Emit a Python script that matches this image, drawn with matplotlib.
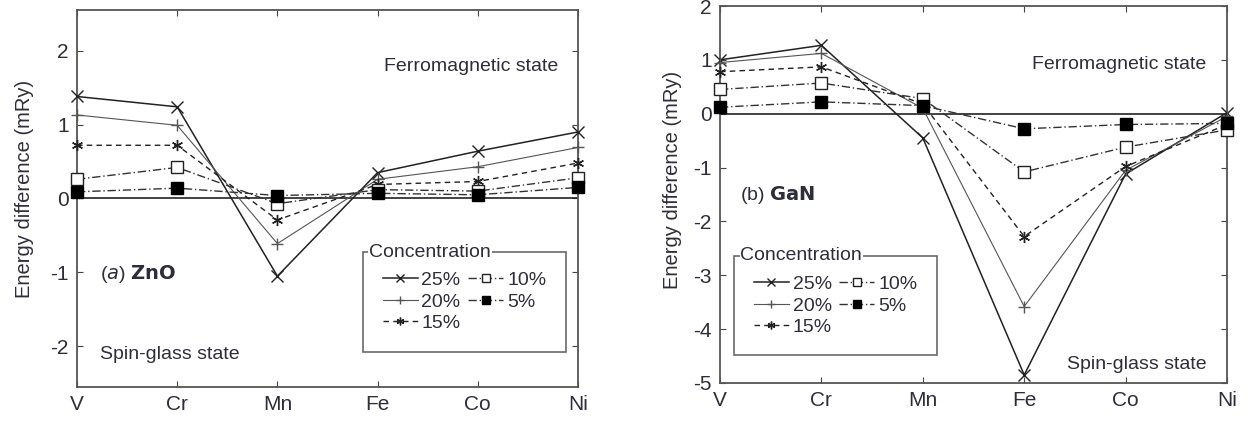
import numpy as np
import matplotlib.pyplot as plt

plt.rcParams['font.family'] = ['Liberation Sans', 'DejaVu Sans']
plt.rcParams['axes.unicode_minus'] = False

elements = ['V', 'Cr', 'Mn', 'Fe', 'Co', 'Ni']
labels = ['25%', '20%', '15%', '10%', '5%']

# ZnO energy differences (mRy)
zno_25 = [1.38, 1.24, -1.05, 0.35, 0.64, 0.90]
zno_20 = [1.13, 0.99, -0.61, 0.26, 0.43, 0.69]
zno_15 = [0.72, 0.72, -0.29, 0.19, 0.23, 0.48]
zno_10 = [0.26, 0.42, -0.07, 0.12, 0.10, 0.28]
zno_5 = [0.09, 0.14, 0.04, 0.07, 0.05, 0.15]

# GaN energy differences (mRy)
gan_25 = [1.00, 1.27, -0.45, -4.85, -1.12, 0.02]
gan_20 = [0.95, 1.12, 0.10, -3.58, -1.05, -0.05]
gan_15 = [0.78, 0.87, 0.18, -2.28, -0.98, -0.20]
gan_10 = [0.45, 0.57, 0.28, -1.08, -0.62, -0.30]
gan_5 = [0.12, 0.22, 0.15, -0.28, -0.20, -0.18]

text_col = '#2e2e3a'
styles = [
    dict(color='#222222', ls='-', lw=1.1, marker='x', ms=8, mfc='none'),
    dict(color='#555555', ls='-', lw=0.8, marker='+', ms=9),
    dict(color='#222222', ls=(0, (4, 3)), lw=1.0, marker=(6, 2, 0), ms=8),
    dict(color='#333333', ls=(0, (6, 2, 1, 2)), lw=1.0, marker='s', ms=8, mfc='white', mec='#222222'),
    dict(color='#333333', ls=(0, (6, 2, 1, 2)), lw=1.0, marker='s', ms=8, mfc='black', mec='black'),
]


def draw_panel(ax, series, ylim, yticks):
    x = np.arange(len(elements))
    for vals, lab, st in zip(series, labels, styles):
        ax.plot(x, vals, label=lab, clip_on=False, zorder=3, **st)
    ax.axhline(0, color='#222222', lw=1.2, zorder=2)
    ax.set_xlim(0, len(elements) - 1)
    ax.set_ylim(*ylim)
    ax.set_xticks(x)
    ax.set_xticklabels(elements)
    ax.set_yticks(yticks)
    ax.tick_params(direction='in', top=True, right=True, labelsize=15,
                   colors='#444444', labelcolor=text_col, length=4, pad=6)
    for s in ax.spines.values():
        s.set_color('#555555')
        s.set_linewidth(1.3)
    ax.set_ylabel('Energy difference (mRy)', fontsize=14.5, color=text_col)


fig = plt.figure(figsize=(12.47, 4.21), dpi=100)
ax1 = fig.add_axes([77 / 1247, 1 - 387 / 421, 501 / 1247, 377 / 421])
ax2 = fig.add_axes([720 / 1247, 1 - 383 / 421, 507 / 1247, 377 / 421])

draw_panel(ax1, [zno_25, zno_20, zno_15, zno_10, zno_5], (-2.55, 2.55), [-2, -1, 0, 1, 2])
draw_panel(ax2, [gan_25, gan_20, gan_15, gan_10, gan_5], (-5, 2), [-5, -4, -3, -2, -1, 0, 1, 2])
ax1.yaxis.set_label_coords(-0.086, 0.525)
ax2.yaxis.set_label_coords(-0.075, 0.538)

ax1.text(0.96, 0.85, 'Ferromagnetic state', transform=ax1.transAxes, ha='right', va='center', fontsize=14, color=text_col)
ax1.text(0.045, 0.085, 'Spin-glass state', transform=ax1.transAxes, ha='left', va='center', fontsize=14, color=text_col)
ax1.text(0.045, 0.30, r'($\it{a}$) $\bf{ZnO}$', transform=ax1.transAxes, ha='left', va='center', fontsize=14, color=text_col)
ax2.text(0.96, 0.845, 'Ferromagnetic state', transform=ax2.transAxes, ha='right', va='center', fontsize=14, color=text_col)
ax2.text(0.96, 0.05, 'Spin-glass state', transform=ax2.transAxes, ha='right', va='center', fontsize=14, color=text_col)
ax2.text(0.04, 0.50, r'(b) $\bf{GaN}$', transform=ax2.transAxes, ha='left', va='center', fontsize=14, color=text_col)


def add_legend(ax, anchor):
    leg = ax.legend(ncol=2, loc='upper left', bbox_to_anchor=anchor, fontsize=14,
                    frameon=True, fancybox=False, edgecolor='#444444', borderaxespad=0,
                    handlelength=1.8, handletextpad=0.2, columnspacing=0.4,
                    labelspacing=0.2, borderpad=1.0, markerscale=0.7)
    leg.get_frame().set_linewidth(1.2)
    for t in leg.get_texts():
        t.set_color(text_col)
    fig.canvas.draw()
    bb = leg.get_window_extent().transformed(ax.transAxes.inverted())
    ax.text(bb.x0 + 0.012, bb.y1, 'Concentration', transform=ax.transAxes, ha='left', va='center',
            fontsize=14, color=text_col, zorder=10,
            bbox=dict(facecolor='white', edgecolor='none', pad=0.5))


add_legend(ax1, (0.571, 0.358))
add_legend(ax2, (0.028, 0.337))

fig.savefig('out.png', dpi=100)
